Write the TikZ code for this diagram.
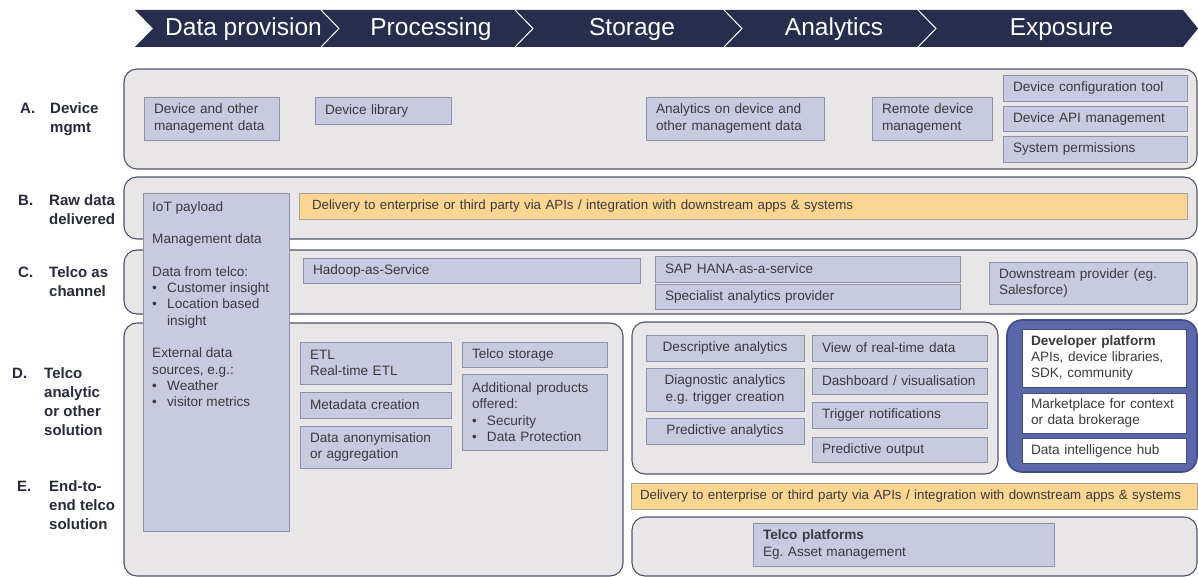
\documentclass[tikz,border=0pt]{standalone}
\usepackage{fontspec}
\setmainfont{Liberation Sans}
\definecolor{hdr}{HTML}{272D4C}
\definecolor{panelfill}{HTML}{E8E6E6}
\definecolor{panelline}{HTML}{50546A}
\definecolor{cellfill}{HTML}{C8CBE0}
\definecolor{cellline}{HTML}{8E92AB}
\definecolor{amberfill}{HTML}{FBD592}
\definecolor{amberline}{HTML}{A8A4A0}
\definecolor{devfill}{HTML}{5A67A8}
\definecolor{devline}{HTML}{414C86}
\definecolor{ink}{HTML}{3A3A3A}
\definecolor{tagink}{HTML}{262A3A}
\newcommand\boxfont{\fontsize{13.6}{16.3}\selectfont}
\newcommand\barfont{\fontsize{13.3}{16.3}\selectfont}
\newcommand\tagfont{\fontsize{15}{18.8}\selectfont\bfseries}
\newcommand\stagefont{\fontsize{24.5}{28}\selectfont}
\newcommand\bul{\makebox[15pt][l]{\textbullet}}
\def\cellpad{10}
% \cell[extra]{style}{name}{x1}{y1}{x2}{y2}{text}: box given by its corners
\newcommand\cell[8][]{%
  \pgfmathsetmacro\cellw{#6-#4}%
  \pgfmathsetmacro\cellh{#7-#5}%
  \pgfmathsetmacro\celltw{#6-#4-2*\cellpad}%
  \node[#2, minimum width=\cellw pt, minimum height=\cellh pt,
        text width=\celltw pt, inner xsep=\cellpad pt, #1]
        (#3) at ({(#4+#6)/2},{(#5+#7)/2}) {#8};}
\tikzset{
  panel/.style={draw=panelline, fill=panelfill, line width=1.1pt,
                rounded corners=13pt, inner ysep=0pt},
  cellbox/.style={draw=cellline, fill=cellfill, line width=0.8pt, text=ink,
                  font=\boxfont, align=left, inner ysep=0pt},
  amber/.style={cellbox, fill=amberfill, draw=amberline, font=\barfont},
  whitecell/.style={cellbox, fill=white, draw=devline},
  devpanel/.style={panel, fill=devfill, draw=devline, line width=1.6pt,
                   rounded corners=15pt},
  rowtag/.style={font=\tagfont, text=tagink, anchor=north west,
                 inner sep=0pt, align=left},
  stagetext/.style={font=\stagefont, text=white, anchor=base, inner sep=0pt}
}
\begin{document}
\begin{tikzpicture}[x=1pt, y=-1pt]
\useasboundingbox (0,0) rectangle (1198,577);

% value-chain header band
\fill[hdr] (135,10) -- (1183,10) -- (1198,28.5) -- (1183,47) -- (135,47)
           -- (153,28.5) -- cycle;
\foreach \sx in {321,515,724,918}
  \draw[white, line width=1pt] (\sx,10) -- (\sx+18,28.5) -- (\sx,47);
\node[stagetext] (hProv) at (243.5,36) {Data provision};
\node[stagetext] (hProc) at (431,36) {Processing};
\node[stagetext] (hStor) at (632,36) {Storage};
\node[stagetext] (hAnal) at (834,36) {Analytics};
\node[stagetext] (hExpo) at (1061.5,36) {Exposure};

% row labels
\node[rowtag] (tagA)  at (20,102.7) {A.};
\node[rowtag] (tagAt) at (50,102.7) {Device\\mgmt};
\node[rowtag] (tagB)  at (18,194.6) {B.};
\node[rowtag] (tagBt) at (49,194.6) {Raw data\\delivered};
\node[rowtag] (tagC)  at (18,266.6) {C.};
\node[rowtag] (tagCt) at (49,266.6) {Telco as\\channel};
\node[rowtag] (tagD)  at (12,367.6) {D.};
\node[rowtag] (tagDt) at (44,367.6) {Telco\\analytic\\or other\\solution};
\node[rowtag] (tagE)  at (17,480.6) {E.};
\node[rowtag] (tagEt) at (49,480.6) {End-to-\\end telco\\solution};

% rounded row panels
\cell{panel}{rowA}{124}{69}{1197}{169}{}
\cell{panel}{rowB}{124}{177}{1197}{239}{}
\cell{panel}{rowC}{124}{250}{1197}{314}{}
\cell{panel}{rowDE}{124}{323}{623}{576}{}
\cell{panel}{analytics}{632}{322}{998}{474}{}
\cell{devpanel}{devzone}{1007}{320}{1197}{472}{}
\cell{panel}{platforms}{632}{517}{1197}{576}{}

% data sources column spanning rows B to E
\cell{cellbox}{sources}{143}{193}{289}{531}{}
\node[anchor=north west, inner sep=0pt, font=\boxfont, text=ink, align=left]
  (sourcesText) at (152,201) {IoT payload\\[16.3pt]
  Management data\\[16.3pt]
  Data from telco:\\
  \bul Customer insight\\
  \bul Location based\\
  \hspace*{15pt}insight\\[16.3pt]
  External data\\
  sources, e.g.:\\
  \bul Weather\\
  \bul visitor metrics};

% A. device management
\cell{cellbox}{devData}{144}{97}{279}{140}{Device and other\\management data}
\cell{cellbox}{devLib}{315}{97}{451}{124}{Device library}
\cell{cellbox}{devAnalytics}{646}{97}{824}{140}{Analytics on device and\\other management data}
\cell{cellbox}{remoteMgmt}{872}{97}{992}{140}{Remote device\\management}
\cell{cellbox}{cfgTool}{1003}{75}{1187}{101}{Device configuration tool}
\cell{cellbox}{apiMgmt}{1003}{106}{1187}{131}{Device API management}
\cell{cellbox}{permissions}{1003}{136}{1187}{162}{System permissions}

% B. raw data delivered
\def\cellpad{13}
\cell{amber}{deliveryB}{299}{193}{1187}{219}{\mbox{Delivery to enterprise or third party via APIs / integration with downstream apps \& systems}}
\def\cellpad{10}

% C. telco as channel
\cell{cellbox}{hadoop}{303}{258}{640}{283}{Hadoop-as-Service}
\cell{cellbox}{sapHana}{655}{256}{960}{282}{SAP HANA-as-a-service}
\cell{cellbox}{specialist}{655}{284}{960}{309}{Specialist analytics provider}
\cell{cellbox}{downstream}{989}{262}{1187}{304}{Downstream provider (eg.\\Salesforce)}

% D. processing and storage
\cell{cellbox}{etl}{300}{342}{451}{384}{ETL\\Real-time ETL}
\cell{cellbox}{metadata}{300}{392}{451}{418}{Metadata creation}
\cell{cellbox}{anonym}{300}{426}{451}{468}{Data anonymisation\\or aggregation}
\cell{cellbox}{telcoStore}{462}{342}{607}{367}{Telco storage}
\cell{cellbox}{extras}{462}{374}{607}{450}{Additional products\\offered:\\\bul Security\\\bul Data Protection}

% D. analytics
\cell[align=center]{cellbox}{descriptive}{646}{335}{804}{361}{Descriptive analytics}
\cell[align=center]{cellbox}{diagnostic}{646}{368}{804}{411}{Diagnostic analytics\\e.g.\ trigger creation}
\cell[align=center]{cellbox}{predictive}{646}{418}{804}{444}{Predictive analytics}
\cell{cellbox}{realtime}{812}{335}{987}{361}{View of real-time data}
\cell{cellbox}{dashboard}{812}{368}{987}{394}{Dashboard / visualisation}
\cell{cellbox}{triggers}{812}{402}{987}{428}{Trigger notifications}
\cell{cellbox}{predOutput}{812}{437}{987}{462}{Predictive output}

% D. exposure
\def\cellpad{9}
\cell{whitecell}{devPlatform}{1022}{329}{1186}{387}{\textbf{Developer platform}\\APIs, device libraries,\\SDK, community}
\cell{whitecell}{marketplace}{1022}{393}{1186}{433}{Marketplace for context\\or data brokerage}
\cell{whitecell}{intelHub}{1022}{438}{1186}{463}{Data intelligence hub}

% E. end-to-end
\cell{amber}{deliveryE}{631}{483}{1197}{509}{\mbox{Delivery to enterprise or third party via APIs / integration with downstream apps \& systems}}
\def\cellpad{10}
\cell{cellbox}{telcoPlat}{753}{523}{1054}{566}{\textbf{Telco platforms}\\Eg.\ Asset management}
\end{tikzpicture}
\end{document}
